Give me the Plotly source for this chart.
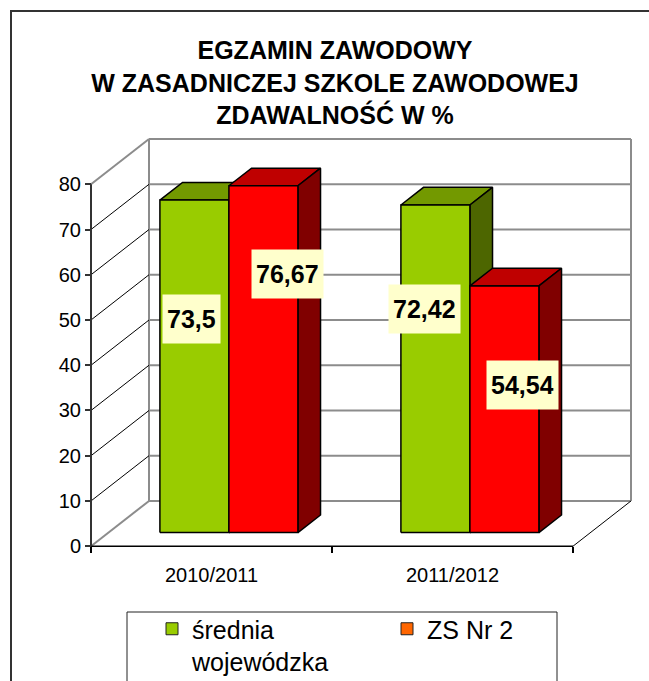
import plotly.graph_objects as go

# ---------------- data ----------------
categories = ["2010/2011", "2011/2012"]
series_names = ["średnia<br>wojewódzka", "ZS Nr 2"]
srednia_wojewodzka = [73.5, 72.42]
zs_nr_2 = [76.67, 54.54]
labels_srednia = ["73,5", "72,42"]
labels_zs = ["76,67", "54,54"]
y_tick_values = [0, 10, 20, 30, 40, 50, 60, 70, 80]
title_lines = ["EGZAMIN ZAWODOWY", "W ZASADNICZEJ SZKOLE ZAWODOWEJ", "ZDAWALNOŚĆ W %"]

# ---------------- style / geometry ----------------
FONT = "Liberation Sans, Arial, sans-serif"
W, H = 649, 681
L, R, T, B = 81, 9, 130, 133
PX_PER_CAT = 241.0
X0 = -0.5 - 10 / PX_PER_CAT
X1 = -0.5 + (W - R - 91) / PX_PER_CAT
Y0, Y1 = -0.4, 92.0
DX = 58 / PX_PER_CAT          # depth offset along x (category units)
DY = 10.0                     # depth offset along y (value units)
D_FRONT, D_BACK = 0.30, 0.69  # bar position within depth
BAR_W = 69 / PX_PER_CAT
YMAX = 80

face_colors = [
    dict(front="#99CC00", top="#739900", side="#4D6600", legend="#99CC00"),
    dict(front="#FF0000", top="#BF0000", side="#800000", legend="#FF6600"),
]
label_yfrac = [[0.642, 0.683], [0.746, 0.598]]
label_xshift = [[-3, -11], [24, 18]]

PW = W - L - R
PH = H - T - B


def paper_x(px):
    return (px - L) / PW


def paper_y(py):
    return 1 - (py - T) / PH


fig = go.Figure()

series = [srednia_wojewodzka, zs_nr_2]
series_labels = [labels_srednia, labels_zs]

fx = D_FRONT * DX
fy = D_FRONT * DY
ddx = (D_BACK - D_FRONT) * DX
ddy = (D_BACK - D_FRONT) * DY

annotations = []
for i, vals in enumerate(series):
    tops_x, tops_y, sides_x, sides_y, fr_x, fr_y = [], [], [], [], [], []
    for c, v in enumerate(vals):
        xl = c + fx + (i - 1) * BAR_W
        xr = xl + BAR_W
        yb = fy
        yt = fy + v
        tops_x += [xl, xr, xr + ddx, xl + ddx, xl, None]
        tops_y += [yt, yt, yt + ddy, yt + ddy, yt, None]
        sides_x += [xr, xr + ddx, xr + ddx, xr, xr, None]
        sides_y += [yb, yb + ddy, yt + ddy, yt, yb, None]
        fr_x += [xl, xr, xr, xl, xl, None]
        fr_y += [yb, yb, yt, yt, yb, None]
        annotations.append(dict(
            x=(xl + xr) / 2, y=fy + v * label_yfrac[i][c], xref="x", yref="y",
            text="<b>" + series_labels[i][c] + "</b>", showarrow=False,
            xshift=label_xshift[i][c],
            font=dict(family=FONT, size=25, color="black"),
            bgcolor="#FFFFCC", borderpad=4, height=40,
        ))
    for xs, ys, col in [(tops_x, tops_y, face_colors[i]["top"]),
                        (sides_x, sides_y, face_colors[i]["side"]),
                        (fr_x, fr_y, face_colors[i]["front"])]:
        fig.add_trace(go.Scatter(
            x=xs, y=ys, mode="lines", fill="toself", fillcolor=col,
            line=dict(color="black", width=1.5), showlegend=False,
            hoverinfo="skip",
        ))

# legend entries
for i, name in enumerate(series_names):
    fig.add_trace(go.Bar(
        x=[None], y=[None], name=name,
        marker=dict(color=face_colors[i]["legend"], line=dict(color="#222", width=1)),
    ))

# ---------------- walls, floor, grid ----------------
shapes = []
GRAY = "#8C8C8C"
# back wall gridlines
for v in y_tick_values:
    shapes.append(dict(type="line", xref="x", yref="y", x0=-0.5 + DX, x1=1.5 + DX,
                       y0=v + DY, y1=v + DY, line=dict(color=GRAY, width=2), layer="below"))
# back wall verticals
for xv in [-0.5 + DX, 1.5 + DX]:
    shapes.append(dict(type="line", xref="x", yref="y", x0=xv, x1=xv,
                       y0=DY, y1=YMAX + DY, line=dict(color=GRAY, width=2), layer="below"))
# side wall oblique lines
for v in y_tick_values:
    col = GRAY if v in (0, YMAX) else "black"
    w = 2 if v in (0, YMAX) else 1
    shapes.append(dict(type="line", xref="x", yref="y", x0=-0.5, x1=-0.5 + DX,
                       y0=v, y1=v + DY, line=dict(color=col, width=w), layer="below"))
# floor right edge
shapes.append(dict(type="line", xref="x", yref="y", x0=1.5, x1=1.5 + DX, y0=0, y1=DY,
                   line=dict(color="black", width=1), layer="below"))
# floor front edge
shapes.append(dict(type="line", xref="x", yref="y", x0=-0.5, x1=1.5, y0=0, y1=0,
                   line=dict(color="black", width=1.5), layer="below"))
# front value axis line
shapes.append(dict(type="line", xref="x", yref="y", x0=-0.5, x1=-0.5, y0=0, y1=YMAX,
                   line=dict(color="#333", width=2), layer="below"))

# chart area border (top & left visible)
shapes.append(dict(type="rect", xref="paper", yref="paper",
                   x0=paper_x(11), x1=paper_x(700), y0=paper_y(11), y1=paper_y(720),
                   line=dict(color="#333", width=2), layer="below"))
# legend box
shapes.append(dict(type="rect", xref="paper", yref="paper",
                   x0=paper_x(127), x1=paper_x(557), y0=paper_y(612), y1=paper_y(700),
                   line=dict(color="#222", width=1), layer="below"))

fig.update_layout(
    width=W, height=H,
    margin=dict(l=L, r=R, t=T, b=B, autoexpand=False),
    paper_bgcolor="white", plot_bgcolor="rgba(0,0,0,0)",
    font=dict(family=FONT, color="black"),
    title=dict(text="<b>" + "<br>".join(title_lines) + "</b>",
               x=335 / W, xanchor="center",
               y=1 - 59 / H, yanchor="middle", yref="container",
               font=dict(family=FONT, size=25, color="black")),
    xaxis=dict(type="linear", range=[X0, X1], anchor="free",
               position=(0 - Y0) / (Y1 - Y0),
               tickmode="array", tickvals=[0, 1], ticktext=categories,
               ticks="", showgrid=False, zeroline=False, showline=False,
               ticklabelstandoff=15,
               tickfont=dict(family=FONT, size=20, color="black"),
               minor=dict(tickmode="array", tickvals=[-0.5, 0.5, 1.5], ticks="outside",
                          ticklen=6, tickwidth=1.5, tickcolor="black", showgrid=False),
               fixedrange=True),
    yaxis=dict(range=[Y0, Y1], anchor="free", position=paper_x(91),
               tickmode="array", tickvals=y_tick_values,
               ticks="outside", ticklen=6, tickwidth=1.5, tickcolor="#333",
               showgrid=False, zeroline=False, showline=False,
               tickfont=dict(family=FONT, size=20, color="black"),
               fixedrange=True),
    showlegend=True,
    legend=dict(orientation="h", x=paper_x(152), xanchor="left",
                y=paper_y(606), yanchor="top", valign="top",
                entrywidth=190, bgcolor="rgba(0,0,0,0)", borderwidth=0,
                font=dict(family=FONT, size=25, color="black"),
                traceorder="normal"),
    shapes=shapes,
    annotations=annotations,
    barmode="overlay",
)

fig.write_html("out.html", config={"displayModeBar": False},
               post_script="document.body.style.margin='0';")
